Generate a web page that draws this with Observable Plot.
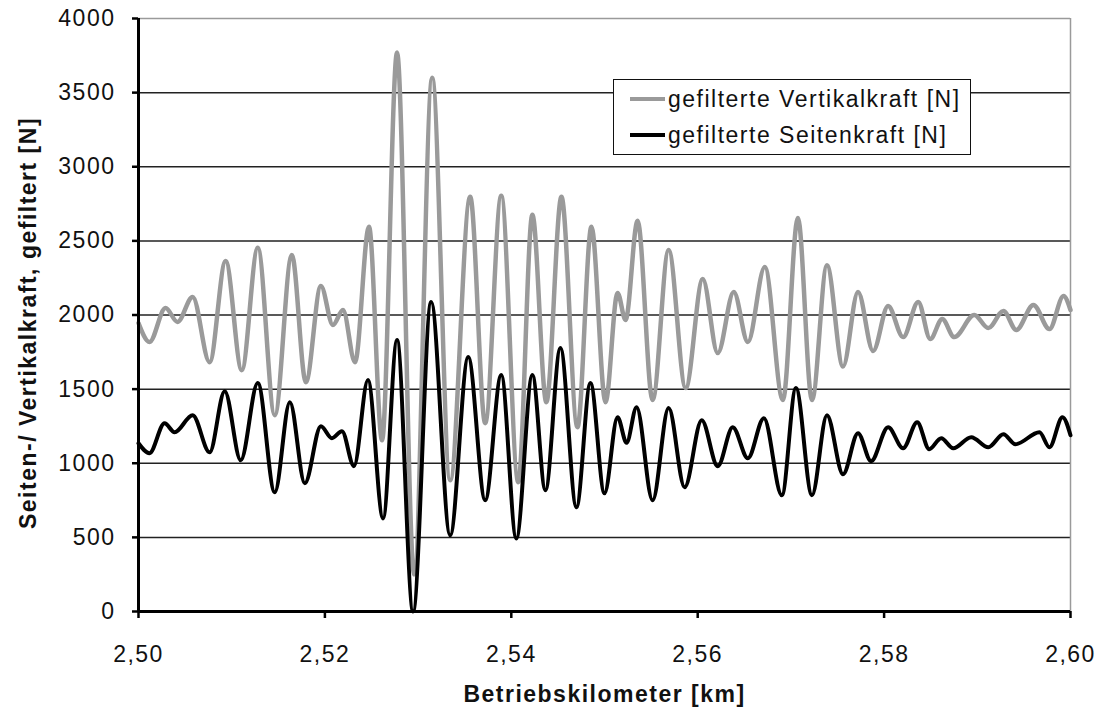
<!DOCTYPE html>
<html>
<head>
<meta charset="utf-8">
<script src="https://cdn.jsdelivr.net/npm/d3@7"></script>
<script src="https://cdn.jsdelivr.net/npm/@observablehq/plot@0.6"></script>
<style>
  body { margin: 0; background: #fff; }
  #chart { position: relative; width: 1109px; height: 715px; font-family: "Liberation Sans", Arial, sans-serif; }
  #chart svg text { letter-spacing: 1.5px; }
  .legend {
    position: absolute; left: 613px; top: 79px; width: 356px; height: 74px;
    border: 1.5px solid #111; background: #fff; color: #111;
    font-size: 23px; letter-spacing: 1.5px;
  }
  .legend .row { display: flex; align-items: center; height: 36px; }
  .legend .row:first-child { margin-top: 1px; }
  .legend .swatch { width: 35px; height: 4px; margin-left: 16px; margin-right: 3px; }
  .legend .label { white-space: nowrap; }
</style>
</head>
<body>
<div id="chart"></div>
<script>
// Axis ticks
const xTicks = [2.50, 2.52, 2.54, 2.56, 2.58, 2.60];
const yTicks = [0, 500, 1000, 1500, 2000, 2500, 3000, 3500, 4000];

// Series names
const seriesNames = ["gefilterte Vertikalkraft [N]", "gefilterte Seitenkraft [N]"];

// Filtered vertical force: position [km] and force [N] at the turning points
const vertKm = [2.5000, 2.50118, 2.50290, 2.50419, 2.50581, 2.50763, 2.50935, 2.51108, 2.51280, 2.51462,
  2.51645, 2.51796, 2.51957, 2.52086, 2.52194, 2.52323, 2.52473, 2.52613, 2.52774, 2.52957,
  2.53151, 2.53344, 2.53559, 2.53720, 2.53892, 2.54075, 2.54226, 2.54376, 2.54538, 2.54710,
  2.54860, 2.55011, 2.55140, 2.55226, 2.55355, 2.55516, 2.55688, 2.55871, 2.56054, 2.56215,
  2.56387, 2.56538, 2.56720, 2.56914, 2.57075, 2.57226, 2.57387, 2.57559, 2.57720, 2.57882,
  2.58043, 2.58204, 2.58366, 2.58495, 2.58624, 2.58753, 2.58968, 2.59118, 2.59280, 2.59419,
  2.59602, 2.59774, 2.59925, 2.6000];
const vertN = [1946, 1818, 2047, 1953, 2122, 1682, 2365, 1628, 2453, 1324,
  2405, 1547, 2196, 1932, 2034, 1682, 2595, 1155, 3770, 250,
  3601, 885, 2797, 1270, 2804, 872, 2676, 1412, 2797, 1243,
  2595, 1412, 2149, 1966, 2635, 1426, 2439, 1507, 2243, 1743,
  2155, 1818, 2324, 1426, 2655, 1426, 2335, 1652, 2155, 1757,
  2061, 1851, 2088, 1838, 1973, 1851, 2000, 1912, 2027, 1899,
  2068, 1905, 2128, 2034];

// Filtered lateral force: position [km] and force [N] at the turning points
const seitKm = [2.5000, 2.50118, 2.50280, 2.50387, 2.50581, 2.50763, 2.50925, 2.51097, 2.51280, 2.51462,
  2.51624, 2.51785, 2.51957, 2.52075, 2.52183, 2.52312, 2.52462, 2.52624, 2.52774, 2.52946,
  2.53140, 2.53344, 2.53538, 2.53720, 2.53892, 2.54054, 2.54226, 2.54366, 2.54527, 2.54699,
  2.54849, 2.55000, 2.55140, 2.55237, 2.55344, 2.55516, 2.55688, 2.55860, 2.56043, 2.56215,
  2.56376, 2.56538, 2.56710, 2.56903, 2.57054, 2.57226, 2.57387, 2.57559, 2.57720, 2.57860,
  2.58043, 2.58204, 2.58355, 2.58484, 2.58613, 2.58742, 2.58935, 2.59118, 2.59280, 2.59409,
  2.59667, 2.59774, 2.59914, 2.6000];
const seitN = [1135, 1068, 1270, 1209, 1324, 1074, 1486, 1020, 1541, 804,
  1412, 865, 1250, 1169, 1216, 980, 1561, 628, 1831, 0,
  2088, 514, 1716, 750, 1595, 493, 1595, 818, 1777, 703,
  1541, 797, 1311, 1138, 1378, 750, 1372, 838, 1290, 980,
  1243, 1034, 1304, 784, 1507, 784, 1324, 926, 1203, 1014,
  1243, 1101, 1277, 1095, 1169, 1101, 1176, 1108, 1196, 1128,
  1209, 1108, 1311, 1189];

const seriesColors = ["#9a9a9a", "#000000"];

const vert = vertKm.map((km, i) => ({km, n: vertN[i]}));
const seit = seitKm.map((km, i) => ({km, n: seitN[i]}));

const xTitle = "Betriebskilometer [km]";
const yTitle = "Seiten-/ Vertikalkraft, gefiltert [N]";

const chart = Plot.plot({
  width: 1109,
  height: 715,
  marginLeft: 138,
  marginRight: 39,
  marginTop: 18,
  marginBottom: 104,
  style: {fontFamily: "'Liberation Sans', Arial, sans-serif", fontSize: "23px", color: "#111", background: "#fff"},
  x: {domain: [2.5, 2.6]},
  y: {domain: [0, 4000]},
  marks: [
    // horizontal grid
    Plot.ruleY(yTicks.filter(v => v > 0 && v < 4000), {stroke: "#222", strokeWidth: 1.5}),
    // plot-area border (top and right)
    Plot.ruleY([4000], {stroke: "#9a9a9a", strokeWidth: 1.5}),
    Plot.ruleX([2.6], {stroke: "#9a9a9a", strokeWidth: 1.5}),
    // series
    Plot.line(vert, {x: "km", y: "n", stroke: seriesColors[0], strokeWidth: 4.5, curve: "monotone-x"}),
    Plot.line(seit, {x: "km", y: "n", stroke: seriesColors[1], strokeWidth: 4, curve: "monotone-x"}),
    // axes
    Plot.axisY({ticks: yTicks, tickSize: 6, tickPadding: 17, tickFormat: d => String(d), label: null, strokeWidth: 2.5, stroke: "#000"}),
    Plot.axisX({ticks: xTicks, tickSize: 7, tickPadding: 27, tickFormat: d => d.toFixed(2).replace(".", ","), label: null, strokeWidth: 2.5, stroke: "#000"}),
    Plot.ruleX([2.5], {stroke: "#000", strokeWidth: 3}),
    Plot.ruleY([0], {stroke: "#000", strokeWidth: 3}),
    // axis titles
    Plot.text([yTitle], {text: d => d, frameAnchor: "left", textAnchor: "middle", dx: -110, dy: 8, rotate: -90, fontWeight: "bold", fontSize: 23, fill: "#111"}),
    Plot.text([xTitle], {text: d => d, frameAnchor: "bottom", textAnchor: "middle", dy: 90, fontWeight: "bold", fontSize: 23, fill: "#111"})
  ]
});

const root = document.getElementById("chart");
root.appendChild(chart);

// legend box inside the plot area
const legend = document.createElement("div");
legend.className = "legend";
seriesNames.forEach((name, i) => {
  const row = document.createElement("div");
  row.className = "row";
  const sw = document.createElement("div");
  sw.className = "swatch";
  sw.style.background = seriesColors[i];
  const lab = document.createElement("span");
  lab.className = "label";
  lab.textContent = name;
  row.appendChild(sw);
  row.appendChild(lab);
  legend.appendChild(row);
});
root.appendChild(legend);
</script>
</body>
</html>
